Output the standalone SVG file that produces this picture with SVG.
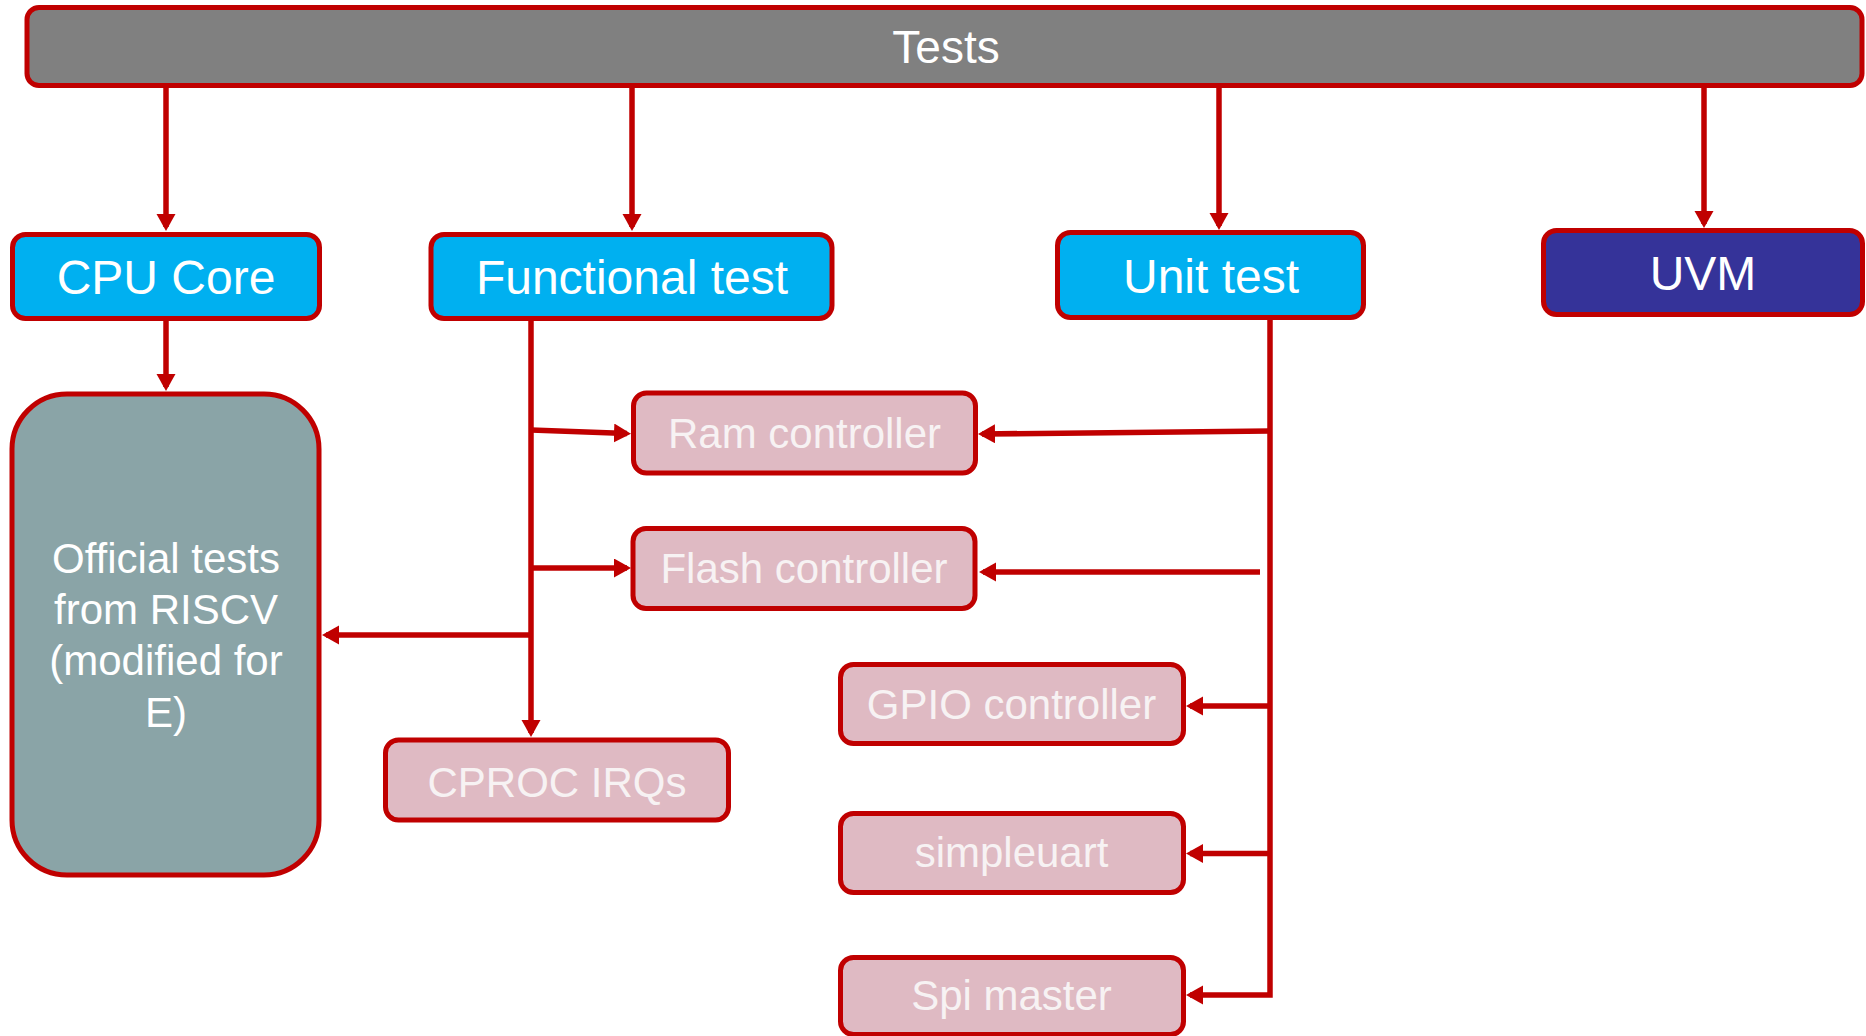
<svg xmlns="http://www.w3.org/2000/svg" width="1866" height="1036" viewBox="0 0 1866 1036">
<defs>
<style>
.box{stroke:#C00000;stroke-width:5}
.grey{fill:#808080}
.blue{fill:#00B0F0}
.uvm{fill:#353399}
.off{fill:#8AA4A7}
.pink{fill:#DFBAC3}
.t{font-family:"Liberation Sans",Arial,sans-serif;fill:#FFFFFF;text-anchor:middle}
.big{font-size:48px}
.mid{font-size:42px}
.pt{fill:#F7F2F3}
.c{fill:none;stroke:#C00000;stroke-width:5.5}
</style>
<marker id="ah" markerWidth="18" markerHeight="20" refX="13" refY="9.5" orient="auto" markerUnits="userSpaceOnUse">
<path d="M0,0 L17,9.5 L0,19 z" fill="#C00000"/>
</marker>
</defs>
<rect width="1866" height="1036" fill="#FFFFFF"/>
<g id="connectors">
<path class="c" d="M166,87 V227" marker-end="url(#ah)"/>
<path class="c" d="M632,87 V227" marker-end="url(#ah)"/>
<path class="c" d="M1219,87 V226" marker-end="url(#ah)"/>
<path class="c" d="M1704,87 V224" marker-end="url(#ah)"/>
<path class="c" d="M166,321 V387" marker-end="url(#ah)"/>
<path class="c" d="M531,319 V733" marker-end="url(#ah)"/>
<path class="c" d="M531,430 L627,433.5" marker-end="url(#ah)"/>
<path class="c" d="M531,568 H627" marker-end="url(#ah)"/>
<path class="c" d="M531,635 H326" marker-end="url(#ah)"/>
<path class="c" d="M1270,319 V995 H1190" marker-end="url(#ah)"/>
<path class="c" d="M1270,431 L982,434" marker-end="url(#ah)"/>
<path class="c" d="M1260,572 H983" marker-end="url(#ah)"/>
<path class="c" d="M1270,706 H1190" marker-end="url(#ah)"/>
<path class="c" d="M1270,853.5 H1190" marker-end="url(#ah)"/>
</g>
<g id="tests">
<rect class="box grey" x="27" y="7.5" width="1835" height="78" rx="12"/>
<text class="t" x="946" y="63" font-size="46">Tests</text>
</g>
<g id="cpu-core">
<rect class="box blue" x="12.5" y="234.5" width="307" height="84" rx="13"/>
<text class="t big" x="166" y="294">CPU Core</text>
</g>
<g id="functional-test">
<rect class="box blue" x="431" y="234.5" width="401" height="84" rx="13"/>
<text class="t big" x="632" y="294">Functional test</text>
</g>
<g id="unit-test">
<rect class="box blue" x="1057.5" y="232.5" width="306" height="85" rx="13"/>
<text class="t big" x="1211" y="293">Unit test</text>
</g>
<g id="uvm">
<rect class="box uvm" x="1543.5" y="230.5" width="319" height="84" rx="13"/>
<text class="t big" x="1703" y="290">UVM</text>
</g>
<g id="official-tests">
<rect class="box off" x="12" y="394" width="307" height="481" rx="55"/>
<text class="t mid" x="166" y="573">Official tests</text>
<text class="t mid" x="166" y="624">from RISCV</text>
<text class="t mid" x="166" y="675">(modified for</text>
<text class="t mid" x="166" y="727">E)</text>
</g>
<g id="ram-controller">
<rect class="box pink" x="633.5" y="393" width="342" height="80" rx="13"/>
<text class="t mid pt" x="804.5" y="448">Ram controller</text>
</g>
<g id="flash-controller">
<rect class="box pink" x="633" y="528.5" width="342" height="80" rx="13"/>
<text class="t mid pt" x="804" y="583">Flash controller</text>
</g>
<g id="cproc-irqs">
<rect class="box pink" x="385.5" y="740" width="343" height="80" rx="13"/>
<text class="t mid pt" x="557" y="797">CPROC IRQs</text>
</g>
<g id="gpio-controller">
<rect class="box pink" x="840.5" y="664.5" width="343" height="79" rx="13"/>
<text class="t mid pt" x="1011.5" y="719">GPIO controller</text>
</g>
<g id="simpleuart">
<rect class="box pink" x="840.5" y="813.5" width="343" height="79" rx="13"/>
<text class="t mid pt" x="1011.5" y="867">simpleuart</text>
</g>
<g id="spi-master">
<rect class="box pink" x="840.5" y="957.5" width="343" height="77" rx="13"/>
<text class="t mid pt" x="1011.5" y="1010">Spi master</text>
</g>
</svg>
